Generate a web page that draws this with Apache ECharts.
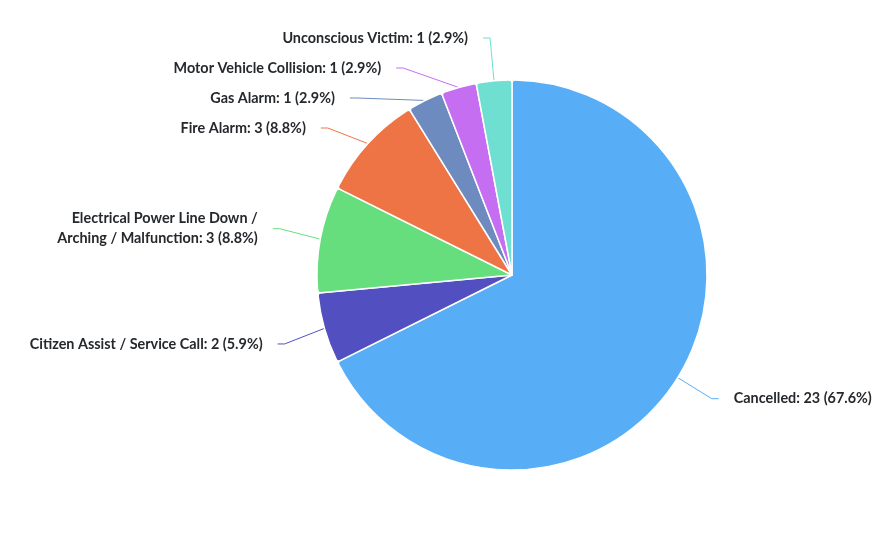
<!DOCTYPE html>
<html>
<head>
<meta charset="utf-8">
<script src="https://cdn.jsdelivr.net/npm/echarts@6/dist/echarts.min.js"></script>
<style>
  html, body { margin: 0; padding: 0; background: #fff; }
  #chart { width: 896px; height: 544px; }
</style>
</head>
<body>
<div id="chart"></div>
<script>
// Datos del gráfico
const categories = [
  'Cancelled',
  'Citizen Assist / Service Call',
  'Electrical Power Line Down / Arching / Malfunction',
  'Fire Alarm',
  'Gas Alarm',
  'Motor Vehicle Collision',
  'Unconscious Victim'
];
const counts = [23, 2, 3, 3, 1, 1, 1];
const colors = ['#57AEF7', '#5250C1', '#67DE7E', '#EE7446', '#6E8BC0', '#C66EF1', '#6EDFD0'];

// Saltos de línea para nombres largos
const labelBreaks = {
  'Electrical Power Line Down / Arching / Malfunction': 'Electrical Power Line Down /\nArching / Malfunction'
};

// Algunas etiquetas usan una línea más corta
const lineLengths = {
  'Cancelled': 40,
  'Motor Vehicle Collision': 50,
  'Unconscious Victim': 43
};

const total = counts.reduce((a, b) => a + b, 0);

const chart = echarts.init(document.getElementById('chart'));

const data = categories.map((name, i) => {
  const item = { name, value: counts[i] };
  if (lineLengths[name]) item.labelLine = { length: lineLengths[name] };
  return item;
});

chart.setOption({
  animation: false,
  color: colors,
  series: [
    {
      type: 'pie',
      center: [512, 275],
      radius: [0, 195],
      startAngle: 90,
      clockwise: true,
      itemStyle: {
        borderColor: '#fff',
        borderWidth: 1.5,
        borderRadius: 3
      },
      label: {
        show: true,
        fontFamily: 'Lato',
        fontWeight: 'bold',
        fontSize: 14.4,
        color: '#25282c',
        lineHeight: 20,
        padding: [4, 0],
        distanceToLabelLine: 15,
        formatter: (p) => {
          const name = labelBreaks[p.name] || p.name;
          const pct = (p.value / total * 100).toFixed(1);
          return `${name}: ${p.value} (${pct}%)`;
        }
      },
      labelLine: {
        show: true,
        length: 57,
        length2: 7,
        lineStyle: { width: 1 }
      },
      data
    }
  ]
});
</script>
</body>
</html>
